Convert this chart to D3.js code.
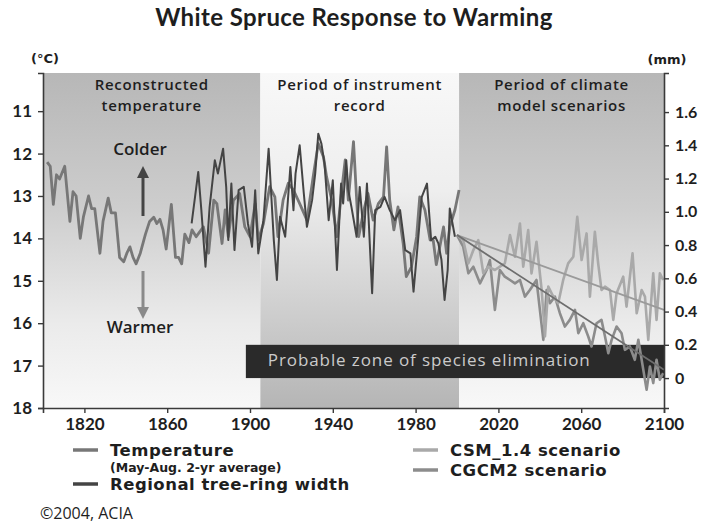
<!DOCTYPE html>
<html>
<head>
<meta charset="utf-8">
<script src="https://cdn.jsdelivr.net/npm/d3@7"></script>
<style>
  body { margin: 0; background: #fff; }
  text { font-family: "Open Sans", sans-serif; fill: #1e1e1e; }
  .heavy { font-family: "DejaVu Sans", sans-serif; font-weight: 700; }
</style>
</head>
<body>
<script>
let tempYears = [1802,1803.5,1805,1806.5,1808,1810.5,1813,1814.5,1816,1818,1819.5,1822,1823.5,1825,1827.5,1829,1831.5,1833,1835,1837,1839,1840.5,1842,1843.5,1845,1847,1849.5,1851.5,1853.5,1855,1856.5,1858,1859.5,1862,1864,1865.5,1867,1868.5,1870.5,1872,1874,1877.5,1880,1882.5,1884,1886.5,1888,1889.5,1892,1895,1897.5,1900,1902.5,1904,1906.5,1909.5,1912,1913.5,1916,1918.5,1921,1924,1927.5,1930.5,1933,1935.5,1937,1939.5,1942,1944.5,1946,1947.5,1950,1952.5,1955,1957,1959.5,1962,1964.5,1966,1967.5,1969.5,1971.5,1974,1975.5,1978,1980.5,1982,1984.5,1987,1988.5,1990,1992,1993.5,1995,1996.5,1999,2001];
let tempValues = [12.2,12.3,13.2,12.5,12.6,12.3,13.6,12.9,13.0,14.0,13.5,13.0,13.3,13.3,14.35,13.6,13.05,13.4,13.4,14.45,14.55,14.35,14.2,14.45,14.6,14.35,13.9,13.6,13.5,13.65,13.55,13.8,14.25,13.2,14.45,14.45,14.6,13.9,14.1,13.8,13.96,13.73,14.35,13.1,13.18,14.12,13.33,13.96,13.1,12.94,13.73,13.96,13.18,14.04,13.65,12.78,13.02,13.96,13.1,12.7,12.86,13.18,13.57,12.55,11.76,12.08,12.55,13.1,13.96,12.78,12.15,13.1,11.72,13.96,13.33,12.94,13.57,13.18,13.02,11.84,13.1,13.8,13.26,14.12,14.9,14.67,13.96,13.02,13.33,14.04,14.04,14.62,14.12,13.73,14.35,13.73,13.33,12.86];

let ringYears = [1871.8,1875,1876.5,1878.5,1880.5,1883,1884.5,1887,1888.5,1889.5,1891,1892.5,1894.5,1897,1899,1901,1902.5,1904,1906.5,1909,1911.5,1913,1914.5,1917,1919.5,1921,1922,1924,1926,1927.5,1930,1931.5,1933,1934.5,1936,1938,1940,1942,1944,1945,1946.5,1947.5,1949,1951.5,1953,1955,1956.5,1959,1960.5,1963,1965,1967.5,1970,1972.5,1975,1977.5,1979,1980.5,1983,1985.5,1987.5,1989.5,1991,1992.5,1994,1995.5,1996.5,1999];
let ringValues = [0.93,1.24,1.01,0.67,1.03,1.31,1.23,1.38,1.15,0.83,1.17,0.77,1.13,1.15,0.93,0.79,1.13,0.75,0.95,1.38,0.83,0.59,0.97,0.85,1.27,1.01,1.23,1.4,1.11,0.91,1.07,1.23,1.47,1.41,1.29,0.95,1.19,0.65,1.17,1.05,1.31,1.13,1.03,0.85,1.15,0.85,1.17,0.51,1.01,1.03,1.09,1.01,0.95,1.01,0.77,0.75,0.52,0.73,1.09,1.17,0.83,0.85,0.81,0.71,0.47,0.65,1.02,0.85];

let csmYears = [2000,2003,2005.5,2007.9,2010.3,2012.7,2015.1,2018.3,2020.7,2023.1,2025.6,2028,2030.4,2032,2034.4,2036,2038.4,2040.9,2042.5,2044.1,2046.5,2048.9,2051.3,2053.7,2056.2,2058.1,2060.2,2062.6,2064.2,2066.6,2068.2,2069.8,2071.5,2073.9,2075.5,2077.1,2080.3,2081.9,2084.8,2086.8,2089.2,2090.8,2092.4,2094.8,2096.4,2098,2099.6];
let csmValues = [0.86,0.83,0.69,0.77,0.83,0.63,0.67,0.65,0.67,0.69,0.86,0.73,0.93,0.67,0.89,0.63,0.82,0.53,0.25,0.55,0.49,0.45,0.59,0.69,0.73,0.97,0.71,0.87,0.49,0.88,0.69,0.53,0.55,0.53,0.35,0.51,0.61,0.43,0.75,0.39,0.53,0.49,0.23,0.63,0.35,0.63,0.59];

let cgcmYears = [2000,2003,2005.5,2007.9,2011.1,2014.3,2015.9,2018.3,2020.7,2023.1,2025.6,2028,2030.4,2032.8,2035.2,2038.4,2041.7,2043.3,2044.9,2047.3,2049.7,2052.1,2054.5,2057,2058.6,2061,2063.4,2065,2067.4,2069.8,2071.5,2073.1,2074.7,2077.1,2079.5,2081.1,2083.5,2085.9,2087.6,2089.2,2090.8,2091.6,2093.2,2094.8,2096.4,2098,2099.6];
let cgcmValues = [0.86,0.79,0.63,0.67,0.57,0.65,0.71,0.41,0.65,0.61,0.59,0.57,0.59,0.49,0.53,0.59,0.23,0.53,0.45,0.49,0.39,0.31,0.35,0.41,0.27,0.33,0.25,0.19,0.33,0.35,0.25,0.15,0.23,0.31,0.27,0.17,0.19,0.11,0.23,0.11,-0.01,-0.07,0.07,-0.03,0.11,-0.01,0.03];

let trendYears = [2000, 2100];
let csmTrend = [0.86, 0.41];
let cgcmTrend = [0.86, 0.05];

let periods = [
  {start: 1800, end: 1905, label: ['Reconstructed', 'temperature'], grad: 'gDown'},
  {start: 1905, end: 2001, label: ['Period of instrument', 'record'], grad: 'gUp'},
  {start: 2001, end: 2100, label: ['Period of climate', 'model scenarios'], grad: 'gDown'}
];
let zone = {start: 1898, end: 2100, low: 0, high: 0.2, label: 'Probable zone of species elimination'};

let tempTicks = [11, 12, 13, 14, 15, 16, 17, 18];
let mmTicks = [0, 0.2, 0.4, 0.6, 0.8, 1.0, 1.2, 1.4, 1.6];
let yearTicks = [1820, 1860, 1900, 1940, 1980, 2020, 2060, 2100];

let width = 706, height = 523;
let svg = d3.select('body').append('svg').attr('width', width).attr('height', height);

let x = d3.scaleLinear().domain([1800, 2100]).range([43, 664]);
let yT = d3.scaleLinear().domain([10.1, 18]).range([73, 408]);
let yM = d3.scaleLinear().domain([-0.18, 1.835]).range([408, 73]);

let defs = svg.append('defs');
let gDown = defs.append('linearGradient').attr('id', 'gDown').attr('x1', 0).attr('y1', 0).attr('x2', 0).attr('y2', 1);
gDown.append('stop').attr('offset', '0%').attr('stop-color', '#b7b7b7');
gDown.append('stop').attr('offset', '40%').attr('stop-color', '#cdcdcd');
gDown.append('stop').attr('offset', '75%').attr('stop-color', '#ebebeb');
gDown.append('stop').attr('offset', '100%').attr('stop-color', '#f8f8f8');
let gUp = defs.append('linearGradient').attr('id', 'gUp').attr('x1', 0).attr('y1', 0).attr('x2', 0).attr('y2', 1);
gUp.append('stop').attr('offset', '0%').attr('stop-color', '#f8f8f8');
gUp.append('stop').attr('offset', '35%').attr('stop-color', '#eeeeee');
gUp.append('stop').attr('offset', '100%').attr('stop-color', '#b5b5b5');

svg.selectAll('rect.period')
  .data(periods)
  .enter()
  .append('rect')
  .attr('class', 'period')
  .attr('x', d => x(d.start))
  .attr('y', yT.range()[0])
  .attr('width', d => x(d.end) - x(d.start))
  .attr('height', yT.range()[1] - yT.range()[0])
  .attr('fill', d => 'url(#' + d.grad + ')');

periods.forEach(p => {
  let cx = (x(p.start) + x(p.end)) / 2;
  p.label.forEach((line, i) => {
    svg.append('text')
      .attr('x', cx)
      .attr('y', 90 + i * 21)
      .attr('text-anchor', 'middle')
      .style('font-size', '15px')
      .style('font-weight', 600)
      .style('letter-spacing', '0.7px')
      .text(line);
  });
});

// species elimination band
svg.append('rect')
  .attr('x', x(zone.start))
  .attr('y', yM(zone.high))
  .attr('width', x(zone.end) - x(zone.start))
  .attr('height', yM(zone.low) - yM(zone.high))
  .attr('fill', '#2a2a2a');
svg.append('text')
  .attr('x', x(zone.start) + 22)
  .attr('y', yM(zone.low) - 12)
  .style('font-size', '17px')
  .style('letter-spacing', '0.9px')
  .style('fill', '#cbcbcb')
  .text(zone.label);

// colder / warmer
svg.append('text').attr('x', 140).attr('y', 155).attr('text-anchor', 'middle').style('font-size', '17px').style('font-weight', 600).text('Colder');
svg.append('text').attr('x', 140).attr('y', 333).attr('text-anchor', 'middle').style('font-size', '17px').style('font-weight', 600).text('Warmer');
defs.append('marker').attr('id', 'arUp').attr('viewBox', '0 0 10 10').attr('refX', 5).attr('refY', 5)
  .attr('markerWidth', 4).attr('markerHeight', 4).attr('orient', 'auto')
  .append('path').attr('d', 'M0,0L10,5L0,10z').attr('fill', '#444');
defs.append('marker').attr('id', 'arDown').attr('viewBox', '0 0 10 10').attr('refX', 5).attr('refY', 5)
  .attr('markerWidth', 4).attr('markerHeight', 4).attr('orient', 'auto')
  .append('path').attr('d', 'M0,0L10,5L0,10z').attr('fill', '#8a8a8a');
svg.append('line').attr('x1', 143).attr('y1', 216).attr('x2', 143).attr('y2', 172)
  .attr('stroke', '#444').attr('stroke-width', 3).attr('marker-end', 'url(#arUp)');
svg.append('line').attr('x1', 143).attr('y1', 271).attr('x2', 143).attr('y2', 313)
  .attr('stroke', '#8a8a8a').attr('stroke-width', 3).attr('marker-end', 'url(#arDown)');

let tempLine = d3.line().x(d => x(d[0])).y(d => yT(d[1]));
let mmLine = d3.line().x(d => x(d[0])).y(d => yM(d[1]));

let series = [
  {name: 'cgcm', data: d3.zip(cgcmYears, cgcmValues), line: mmLine, color: '#8c8c8c', w: 2.6},
  {name: 'csm', data: d3.zip(csmYears, csmValues), line: mmLine, color: '#a9a9a9', w: 2.6},
  {name: 'temp', data: d3.zip(tempYears, tempValues), line: tempLine, color: '#777777', w: 2.8},
  {name: 'ring', data: d3.zip(ringYears, ringValues), line: mmLine, color: '#444444', w: 2}
];

svg.selectAll('path.series')
  .data(series)
  .enter()
  .append('path')
  .attr('class', 'series')
  .attr('d', d => d.line(d.data))
  .attr('fill', 'none')
  .attr('stroke', d => d.color)
  .attr('stroke-width', d => d.w)
  .attr('stroke-linejoin', 'round');

svg.append('path').attr('d', mmLine(d3.zip(trendYears, csmTrend)))
  .attr('stroke', '#9a9a9a').attr('stroke-width', 1.8).attr('fill', 'none');
svg.append('path').attr('d', mmLine(d3.zip(trendYears, cgcmTrend)))
  .attr('stroke', '#6e6e6e').attr('stroke-width', 1.8).attr('fill', 'none');

// axes
let leftAxis = svg.append('g')
  .attr('transform', `translate(${x(1800)},0)`)
  .call(d3.axisLeft(yT).tickValues(tempTicks).tickSize(5).tickPadding(6).tickFormat(d3.format('d')));
let rightAxis = svg.append('g')
  .attr('transform', `translate(${x(2100)},0)`)
  .call(d3.axisRight(yM).tickValues(mmTicks).tickSize(5).tickPadding(6).tickFormat(d => d === 0 ? '0' : d.toFixed(1)));
let bottomAxis = svg.append('g')
  .attr('transform', `translate(0,${yT.range()[1]})`)
  .call(d3.axisBottom(x).tickValues(yearTicks).tickSize(5).tickPadding(5).tickFormat(d3.format('d')));

[leftAxis, rightAxis, bottomAxis].forEach(a => {
  a.select('.domain').attr('stroke', '#3a3a3a').attr('stroke-width', 1.6);
  a.selectAll('.tick line').attr('stroke', '#3a3a3a').attr('stroke-width', 1.4);
  a.selectAll('.tick text').style('font-family', 'Lato, sans-serif').style('font-size', '17px').style('font-weight', 700).attr('fill', '#1e1e1e');
});
rightAxis.selectAll('.tick text').style('font-size', '16px');

svg.append('text').attr('class', 'heavy').attr('x', 45).attr('y', 63).attr('text-anchor', 'middle').style('font-size', '13px').text('(°C)');
svg.append('text').attr('class', 'heavy').attr('x', 667).attr('y', 64).attr('text-anchor', 'middle').style('font-size', '13px').text('(mm)');

svg.append('text').attr('x', 354).attr('y', 26).attr('text-anchor', 'middle')
  .style('font-family', 'Lato, sans-serif')
  .style('font-size', '24px').style('font-weight', 700).style('letter-spacing', '0.4px')
  .text('White Spruce Response to Warming');

// legend
let legendItems = [
  {x: 73, y: 456, color: '#777777', label: 'Temperature'},
  {x: 73, y: 490, color: '#444444', label: 'Regional tree-ring width'},
  {x: 413, y: 456, color: '#a9a9a9', label: 'CSM_1.4 scenario'},
  {x: 413, y: 476, color: '#8c8c8c', label: 'CGCM2 scenario'}
];
let legend = svg.append('g');
legend.selectAll('line')
  .data(legendItems)
  .enter()
  .append('line')
  .attr('x1', d => d.x)
  .attr('x2', d => d.x + 25)
  .attr('y1', d => d.y - 6)
  .attr('y2', d => d.y - 6)
  .attr('stroke', d => d.color)
  .attr('stroke-width', 3.5);
legend.selectAll('text')
  .data(legendItems)
  .enter()
  .append('text')
  .attr('class', 'heavy')
  .attr('x', d => d.x + 37)
  .attr('y', d => d.y)
  .style('font-size', '16.5px')
  .style('letter-spacing', '0.5px')
  .text(d => d.label);
svg.append('text').attr('class', 'heavy').attr('x', 110).attr('y', 472).style('font-size', '12.5px').text('(May-Aug. 2-yr average)');

svg.append('text').attr('x', 40).attr('y', 519).style('font-size', '16px').text('©2004, ACIA');
</script>
</body>
</html>
